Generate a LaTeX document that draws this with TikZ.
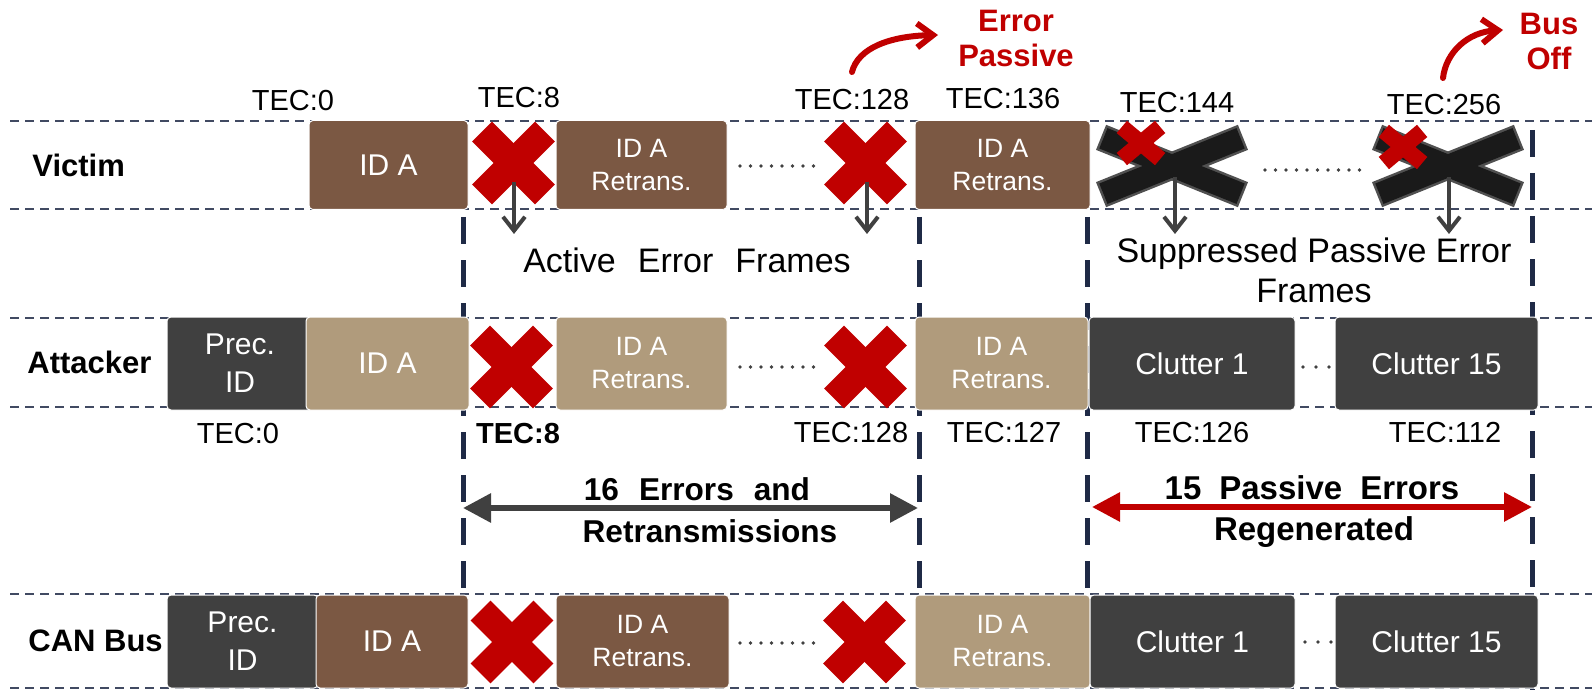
\documentclass[tikz,border=0pt]{standalone}
\usepackage{fontspec}
\setmainfont{Liberation Sans}
\usetikzlibrary{arrows.meta}

\definecolor{vbrown}{RGB}{123,88,67}
\definecolor{atan}{RGB}{176,155,124}
\definecolor{dkgray}{RGB}{64,64,64}
\definecolor{xred}{RGB}{192,0,0}
\definecolor{navy}{RGB}{31,42,70}
\definecolor{xblack}{RGB}{26,26,26}
\definecolor{xblackedge}{RGB}{80,80,80}

\tikzset{
  hline/.style={draw=navy!85, line width=1pt, dash pattern=on 4.5pt off 3pt},
  vline/.style={draw=navy, line width=2.5pt, dash pattern=on 13.5pt off 8pt},
  frame/.style 2 args={rounded corners=2pt, inner sep=0pt, draw=white, line width=0.5pt,
    minimum width=#1*0.5pt, minimum height=#2*0.5pt, text=white, align=center,
    font=\fontsize{15}{19}\selectfont},
  rt/.style={font=\fontsize{13.25}{16.5}\selectfont},
  tec/.style={font=\fontsize{14.5}{17}\selectfont, inner sep=0pt},
  rowlab/.style={font=\bfseries\fontsize{15.5}{18}\selectfont, inner sep=0pt},
  note/.style={font=\fontsize{17}{20}\selectfont, inner sep=0pt, align=center},
  boldnote/.style={font=\bfseries\fontsize{15.8}{21}\selectfont, inner sep=0pt, anchor=base},
  statelab/.style={text=xred, font=\bfseries\fontsize{15.5}{17.2}\selectfont, inner sep=0pt, align=center},
  downarrow/.style={draw=dkgray, line width=2pt, -{Straight Barb[length=7pt,width=11pt]}},
  curvearrow/.style={draw=xred, line width=3pt, line cap=round, -{Straight Barb[length=8pt,width=12pt]}},
  spanarrow/.style={line width=3pt, {Triangle[length=14pt,width=14pt]}-{Triangle[length=14pt,width=14pt]}},
  redx/.pic={
    \fill[xred, rotate=45]  (-44.5,-14) rectangle (44.5,14);
    \fill[xred, rotate=-45] (-44.5,-14) rectangle (44.5,14);
  },
  smallredx/.pic={
    \fill[xred, rotate=40]  (-25,-8) rectangle (25,8);
    \fill[xred, rotate=-40] (-25,-8) rectangle (25,8);
  },
  crossedout/.pic={
    \draw[xblackedge, line width=2.5pt, rotate=22]  (-74,-11) rectangle (74,11);
    \draw[xblackedge, line width=2.5pt, rotate=-22] (-74,-11) rectangle (74,11);
    \fill[xblack, rotate=22]  (-74,-11) rectangle (74,11);
    \fill[xblack, rotate=-22] (-74,-11) rectangle (74,11);
  },
}

\begin{document}
\begin{tikzpicture}[x=0.5pt, y=-0.5pt]
\useasboundingbox (0,0) rectangle (1592,690);

% ---- row boundaries ----
\foreach \yy in {121,209,318,407,594,688}
  \draw[hline] (10,\yy) -- (1592,\yy);

% ---- phase separators ----
\coordinate (s1t) at (463,217);  \coordinate (s1b) at (463,690);
\coordinate (s2t) at (919,217);  \coordinate (s2b) at (919,690);
\coordinate (s3t) at (1087,217); \coordinate (s3b) at (1087,690);
\coordinate (s4t) at (1532,130); \coordinate (s4b) at (1532,690);
\draw[vline] (s1t) -- (s1b);
\draw[vline] (s2t) -- (s2b);
\draw[vline] (s3t) -- (s3b);
\draw[vline] (s4t) -- (s4b);

% ---- row labels ----
\node[rowlab, anchor=west] (lv) at (32,165) {Victim};
\node[rowlab, anchor=west] (la) at (27,362) {Attacker};
\node[rowlab, anchor=west] (lc) at (28,641) {CAN Bus};

% ---- victim frames ----
\node[frame={159}{89}, fill=vbrown] (vA) at (388.5,165) {ID A};
\node[frame={171}{89}, fill=vbrown, rt] (vR1) at (641.5,165) {ID A\\Retrans.};
\node[frame={175}{89}, fill=vbrown, rt] (vR2) at (1002.5,165) {ID A\\Retrans.};

% ---- attacker frames ----
\node[frame={146}{93}, fill=dkgray] (aP) at (240,363.5) {Prec.\\ID};
\node[frame={163}{93}, fill=atan] (aA) at (387.5,363.5) {ID A};
\node[frame={171}{93}, fill=atan, rt] (aR1) at (641.5,363.5) {ID A\\Retrans.};
\node[frame={173}{93}, fill=atan, rt] (aR2) at (1001.5,363.5) {ID A\\Retrans.};
\node[frame={206}{93}, fill=dkgray] (aC1) at (1192,363.5) {Clutter 1};
\node[frame={203}{93}, fill=dkgray] (aC15) at (1436.5,363.5) {Clutter 15};

% ---- bus frames ----
\node[frame={151}{93}, fill=dkgray] (cP) at (242.5,641.5) {Prec.\\ID};
\node[frame={152}{93}, fill=vbrown] (cA) at (392,641.5) {ID A};
\node[frame={173}{93}, fill=vbrown, rt] (cR1) at (642.5,641.5) {ID A\\Retrans.};
\node[frame={175}{93}, fill=atan, rt] (cR2) at (1002.5,641.5) {ID A\\Retrans.};
\node[frame={205}{93}, fill=dkgray] (cC1) at (1192.5,641.5) {Clutter 1};
\node[frame={203}{93}, fill=dkgray] (cC15) at (1436.5,641.5) {Clutter 15};

% ---- ellipsis dots ----
\foreach \i in {0,...,7} {
  \fill[dkgray] (740+\i*10.5,166) circle (1.8);
  \fill[dkgray] (740+\i*10.5,367) circle (1.8);
  \fill[dkgray] (740+\i*10.5,643) circle (1.8);
}
\foreach \i in {0,...,9}
  \fill[dkgray] (1265+\i*10.5,170) circle (1.8);
\foreach \i in {0,...,2} {
  \fill[dkgray] (1303+\i*13,367) circle (1.8);
  \fill[dkgray] (1305+\i*13,642) circle (1.8);
}

% ---- error marks ----
\coordinate (vx1) at (513.5,163);  \coordinate (vx2) at (865.5,163);
\coordinate (ax1) at (511.5,367);  \coordinate (ax2) at (865.5,367);
\coordinate (cx1) at (512,642);    \coordinate (cx2) at (864.5,642);
\pic at (vx1) {redx}; \pic at (vx2) {redx};
\pic at (ax1) {redx}; \pic at (ax2) {redx};
\pic at (cx1) {redx}; \pic at (cx2) {redx};

\coordinate (bx1) at (1172,166);  \coordinate (bx2) at (1448,166);
\coordinate (sx1) at (1141,143);  \coordinate (sx2) at (1403,147);
\pic at (bx1) {crossedout}; \pic at (bx2) {crossedout};
\pic at (sx1) {smallredx};  \pic at (sx2) {smallredx};

% ---- error frame arrows ----
\coordinate (d1s) at (514,182);  \coordinate (d1e) at (514,234);
\coordinate (d2s) at (867,182);  \coordinate (d2e) at (867,234);
\coordinate (d3s) at (1175,177); \coordinate (d3e) at (1175,234);
\coordinate (d4s) at (1449,177); \coordinate (d4e) at (1449,234);
\draw[downarrow] (d1s) -- (d1e);
\draw[downarrow] (d2s) -- (d2e);
\draw[downarrow] (d3s) -- (d3e);
\draw[downarrow] (d4s) -- (d4e);

\node[note] (nact) at (687,260) {Active\hspace{11pt}Error\hspace{11pt}Frames};
\node[note] (nsup) at (1314,270) {Suppressed Passive Error\\Frames};

% ---- TEC values ----
\node[tec] (tv0)   at (293,101)  {TEC:0};
\node[tec] (tv8)   at (519,98)   {TEC:8};
\node[tec] (tv128) at (852,100)  {TEC:128};
\node[tec] (tv136) at (1003,99)  {TEC:136};
\node[tec] (tv144) at (1177,103) {TEC:144};
\node[tec] (tv256) at (1444,105) {TEC:256};

\node[tec] (ta0)   at (238,434)  {TEC:0};
\node[tec, font=\bfseries\fontsize{14.5}{17}\selectfont] (ta8) at (518,434) {TEC:8};
\node[tec] (ta128) at (851,433)  {TEC:128};
\node[tec] (ta127) at (1004,433) {TEC:127};
\node[tec] (ta126) at (1192,433) {TEC:126};
\node[tec] (ta112) at (1445,433) {TEC:112};

% ---- state changes ----
\node[statelab] (ep) at (1016,38.5) {Error\\Passive};
\node[statelab, font=\bfseries\fontsize{15.5}{17.5}\selectfont] (bo) at (1549,41.5) {Bus\\Off};
\coordinate (ep1) at (852,72);  \coordinate (ep2) at (938,35);
\coordinate (bo1) at (1443,78); \coordinate (bo2) at (1503,30);
\draw[curvearrow] (ep1) .. controls (858,48) and (890,36) .. (ep2);
\draw[curvearrow] (bo1) .. controls (1446,52) and (1468,32) .. (bo2);

% ---- spans ----
\coordinate (g1) at (463,508);  \coordinate (g2) at (918,508);
\coordinate (r1) at (1092,507); \coordinate (r2) at (1532,507);
\draw[spanarrow, draw=dkgray, fill=dkgray] (g1) -- (g2);
\draw[spanarrow, draw=xred, fill=xred] (r1) -- (r2);

\node[boldnote] (n16a) at (697,500) {16\hspace{10pt}Errors\hspace{10pt}and};
\node[boldnote] (n16b) at (710,542) {Retransmissions};
\node[boldnote, font=\bfseries\fontsize{16.5}{21}\selectfont] (n15a) at (1312,499)
  {15\hspace{9pt}Passive\hspace{9pt}Errors};
\node[boldnote, font=\bfseries\fontsize{16.5}{21}\selectfont] (n15b) at (1314,540) {Regenerated};
\end{tikzpicture}
\end{document}
